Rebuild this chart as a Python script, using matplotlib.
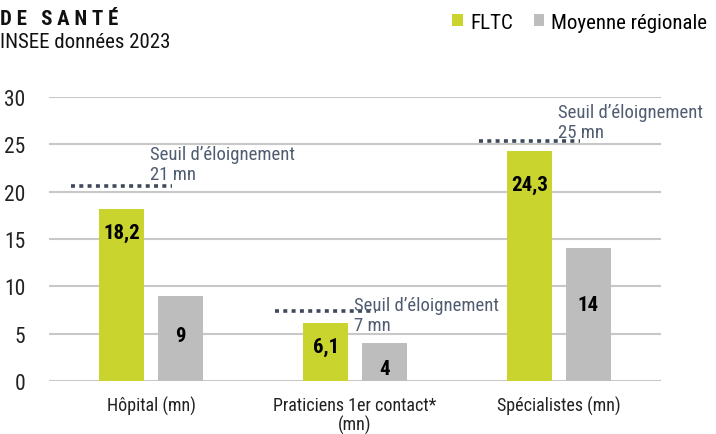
import matplotlib
matplotlib.use("Agg")
import matplotlib.pyplot as plt
import numpy as np
from matplotlib.patches import Patch

plt.rcParams['font.family'] = ['Roboto Condensed', 'DejaVu Sans']

categories = ["Hôpital (mn)", "Praticiens 1er contact*\n(mn)", "Spécialistes (mn)"]
fltc = [18.2, 6.1, 24.3]
regional = [9, 4, 14]
fltc_labels = ["18,2", "6,1", "24,3"]
regional_labels = ["9", "4", "14"]
thresholds = [21, 7, 25]
threshold_texts = ["Seuil d’éloignement\n21 mn", "Seuil d’éloignement\n7 mn", "Seuil d’éloignement\n25 mn"]
yticks = [0, 5, 10, 15, 20, 25, 30]

GREEN = "#c9d42f"
GREY = "#bdbdbd"
DOT = "#3e4a5c"
TXT = "#505c70"

W, H = 716, 435
fig = plt.figure(figsize=(W / 100, H / 100), dpi=100)
left, right, bottom, top = 49, 661, 382, 98
ax = fig.add_axes([left / W, 1 - bottom / H, (right - left) / W, (bottom - top) / H])

x = np.arange(len(categories))
bw = 0.22
off = 0.143
ax.bar(x - off, fltc, width=bw, color=GREEN, zorder=3)
ax.bar(x + off, regional, width=bw, color=GREY, zorder=3)

# value labels (position within bar as a fraction of the bar height)
fltc_pos = [0.864, 0.59, 0.856]
reg_pos = [0.53, 0.34, 0.58]
for i in range(len(categories)):
    ax.text(x[i] - off, fltc[i] * fltc_pos[i], fltc_labels[i], ha='center', va='center',
            fontsize=15, fontweight='bold', color='black', zorder=5)
    ax.text(x[i] + off, regional[i] * reg_pos[i], regional_labels[i], ha='center', va='center',
            fontsize=15, fontweight='bold', color='black', zorder=5)

# threshold dotted lines and texts
text_va = ['bottom', 'center', 'bottom']
text_dy = [-0.1, 0.0, 0.3]
dot_dy = [-0.45, 0.4, 0.4]
for i, t in enumerate(thresholds):
    ax.plot([x[i] - 0.39, x[i] + 0.105], [t + dot_dy[i]] * 2, color=DOT, lw=2.6,
            linestyle=(0, (1.1, 1.2)), solid_capstyle='butt', dash_capstyle='butt', zorder=4)
    ax.text(x[i] - 0.005, t + text_dy[i], threshold_texts[i], ha='left', va=text_va[i],
            fontsize=13.5, color=TXT, linespacing=1.15, zorder=6)

ax.set_xlim(-0.5, 2.5)
ax.set_ylim(0, 30)
ax.set_yticks(yticks)
ax.set_xticks(x)
ax.set_xticklabels(categories, fontsize=13, color='#222222', linespacing=1.05)
ax.tick_params(axis='y', length=0, pad=17, labelsize=15.5, labelcolor='#222222')
ax.tick_params(axis='x', length=0, pad=11)
ax.grid(axis='y', color='#c8c8c8', lw=1.5, zorder=0)
ax.set_axisbelow(True)
for s in ax.spines.values():
    s.set_visible(False)

# header
fig.text(0, 1 - 25 / H, "D E   S A N T É", fontsize=15, fontweight='bold', color='#111111',
         ha='left', va='baseline')
fig.text(0, 1 - 48 / H, "INSEE données 2023", fontsize=15, color='#111111', ha='left', va='baseline')

handles = [Patch(facecolor=GREEN, edgecolor='none'), Patch(facecolor=GREY, edgecolor='none')]
fig.legend(handles, ["FLTC", "Moyenne régionale"], loc='upper right', bbox_to_anchor=(1.0 + 6 / W, 1 + 1 / H),
           ncol=2, frameon=False, fontsize=15, handlelength=0.5, handleheight=0.55, handletextpad=0.35,
           columnspacing=1.0, borderpad=0.2)

fig.savefig("out.png", dpi=100)
